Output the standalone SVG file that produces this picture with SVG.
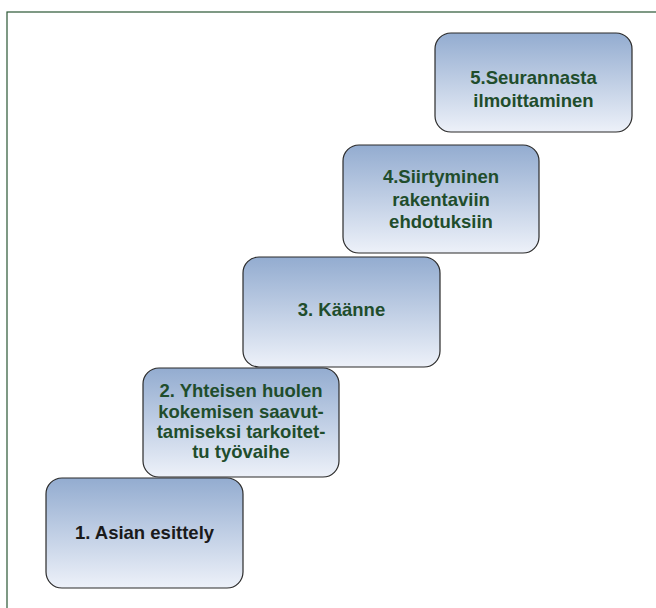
<svg xmlns="http://www.w3.org/2000/svg" width="656" height="608" viewBox="0 0 656 608">
<defs>
<linearGradient id="g" x1="0" y1="0" x2="0" y2="1" gradientUnits="objectBoundingBox">
<stop offset="0" stop-color="#93acd0"/>
<stop offset="1" stop-color="#edf1f9"/>
</linearGradient>
<style>
.box{stroke:#2b2b2b;stroke-width:1.2}
.t{font-family:"Liberation Sans",Arial,sans-serif;font-weight:bold;font-size:18.5px;fill:#1f4d2c;text-anchor:middle}
.k{fill:#1a1a1a}
</style>
</defs>
<rect width="656" height="608" fill="#ffffff"/>
<rect x="7" y="12" width="700" height="700" fill="none" stroke="#2a5634" stroke-width="1.2"/>
<g id="connectors"></g>
<g id="node5">
<rect class="box" fill="url(#g)" x="435" y="33" width="197" height="99" rx="16"/>
<text class="t" x="533.5" y="84">5.Seurannasta</text>
<text class="t" x="533.5" y="107">ilmoittaminen</text>
</g>
<g id="node4">
<rect class="box" fill="url(#g)" x="343" y="145" width="196" height="108" rx="16"/>
<text class="t" x="441" y="183">4.Siirtyminen</text>
<text class="t" x="441" y="206">rakentaviin</text>
<text class="t" x="441" y="228">ehdotuksiin</text>
</g>
<g id="node3">
<rect class="box" fill="url(#g)" x="243" y="257" width="197" height="110" rx="16"/>
<text class="t" x="341.5" y="316">3. Käänne</text>
</g>
<g id="node2">
<rect class="box" fill="url(#g)" x="143" y="368" width="196" height="109" rx="16"/>
<text class="t" x="241" y="397">2. Yhteisen huolen</text>
<text class="t" x="241" y="418">kokemisen saavut-</text>
<text class="t" x="241" y="438">tamiseksi tarkoitet-</text>
<text class="t" x="241" y="458">tu työvaihe</text>
</g>
<g id="node1">
<rect class="box" fill="url(#g)" x="46" y="478" width="197" height="110" rx="16"/>
<text class="t k" x="144.5" y="539">1. Asian esittely</text>
</g>
</svg>
